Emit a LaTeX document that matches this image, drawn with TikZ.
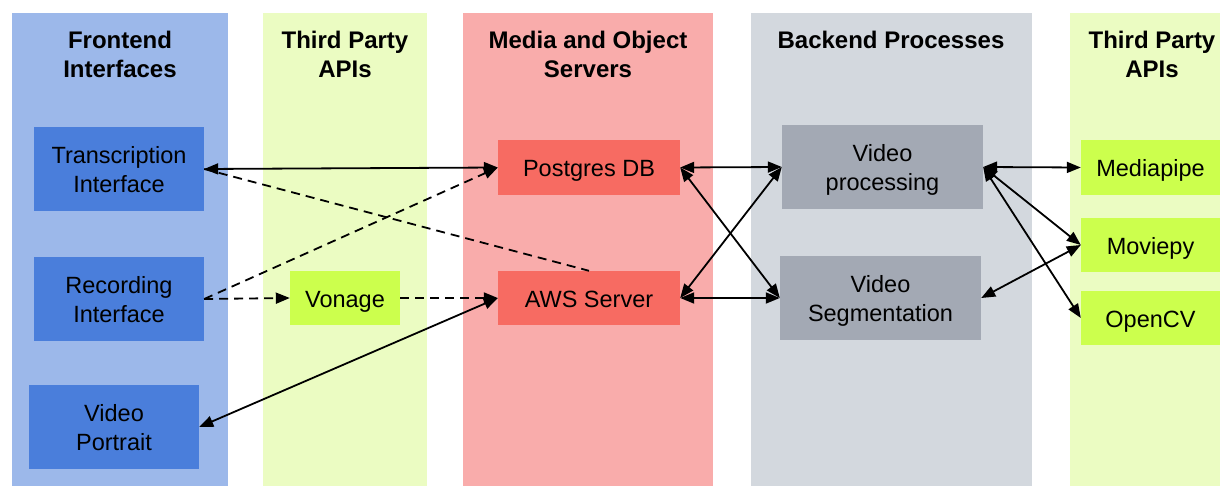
\documentclass[tikz,border=0pt]{standalone}
\usepackage{fontspec}
\setmainfont{Liberation Sans}
\usepackage{tikz}
\usetikzlibrary{arrows.meta}
\usepackage{xcolor}

\definecolor{feLane}{HTML}{9CB8EA}
\definecolor{feBox}{HTML}{4A7EDB}
\definecolor{apiLane}{HTML}{EBFCC2}
\definecolor{apiBox}{HTML}{CCFF4D}
\definecolor{srvLane}{HTML}{F9ACAB}
\definecolor{srvBox}{HTML}{F76B62}
\definecolor{beLane}{HTML}{D3D8DE}
\definecolor{beBox}{HTML}{A3A9B4}
\newcommand{\vpad}{\rule{0pt}{24pt}}

\begin{document}
\begin{tikzpicture}[x=1pt,y=-1pt,>={Triangle[length=14pt,width=11pt]},
  head/.style={anchor=north,align=center,inner sep=0pt,font=\bfseries\fontsize{24}{29}\selectfont},
  box/.style={align=center,inner sep=0pt,font=\fontsize{23.5}{29}\selectfont,
    execute at begin node={\rule{0pt}{24pt}},
    execute at end node={\rule[-5.6pt]{0pt}{5.6pt}}},
  link/.style={<->,line width=1.8pt},
  dlink/.style={line width=1.8pt,dash pattern=on 9pt off 6pt}]
\useasboundingbox (0,0) rectangle (1220,486);
% lanes
\fill[feLane] (12,13) rectangle (228,486);
\fill[apiLane] (263,13) rectangle (427,486);
\fill[srvLane] (463,13) rectangle (713,486);
\fill[beLane] (751,13) rectangle (1032,486);
\fill[apiLane] (1070,13) rectangle (1220,486);
\node[head] (hfe) at (120,31) {Frontend\\Interfaces};
\node[head] (hapi) at (345,31) {Third Party\\APIs};
\node[head] (hsrv) at (588,31) {Media and Object\\Servers};
\node[head] (hbe) at (891,31) {Backend Processes};
\node[head] (hapi2) at (1152,31) {Third Party\\APIs};
% boxes
\node[box,fill=feBox,minimum width=170pt,minimum height=84pt] (trans) at (119,169) {\vpad Transcription\\Interface};
\node[box,fill=feBox,minimum width=170pt,minimum height=84pt] (rec) at (119,299) {\vpad Recording\\Interface};
\node[box,fill=feBox,minimum width=170pt,minimum height=84pt] (portrait) at (114,427) {\vpad Video\\Portrait};
\node[box,fill=apiBox,minimum width=110pt,minimum height=54pt] (vonage) at (345,298) {Vonage};
\node[box,fill=srvBox,minimum width=182pt,minimum height=55pt] (pg) at (589,167.5) {Postgres DB};
\node[box,fill=srvBox,minimum width=182pt,minimum height=54pt] (aws) at (589,298) {AWS Server};
\node[box,fill=beBox,minimum width=201pt,minimum height=84pt] (vproc) at (882.5,167) {\vpad Video\\processing};
\node[box,fill=beBox,minimum width=201pt,minimum height=84pt] (vseg) at (880.5,298) {\vpad Video\\Segmentation};
\node[box,fill=apiBox,minimum width=139pt,minimum height=55pt] (mpipe) at (1150.5,167.5) {Mediapipe};
\node[box,fill=apiBox,minimum width=139pt,minimum height=54pt] (mpy) at (1150.5,245) {Moviepy};
\node[box,fill=apiBox,minimum width=139pt,minimum height=54pt] (ocv) at (1150.5,318) {OpenCV};
% connectors
\draw[dlink] (trans.east) -- (aws.north);
\draw[dlink,->] (rec.east) -- (pg.west);
\draw[dlink,->] (rec.east) -- (vonage.west);
\draw[dlink,->] (vonage.east) -- (aws.west);
\draw[link] (trans.east) -- (pg.west);
\draw[link] (aws.west) -- (portrait.east);
\draw[link] (pg.east) -- (vproc.west);
\draw[link] (pg.east) -- (vseg.west);
\draw[link] (aws.east) -- (vproc.west);
\draw[link] (aws.east) -- (vseg.west);
\draw[link] (vproc.east) -- (mpipe.west);
\draw[link] (vproc.east) -- (mpy.west);
\draw[link] (vproc.east) -- (ocv.west);
\draw[link] (vseg.east) -- (mpy.west);
\end{tikzpicture}
\end{document}
